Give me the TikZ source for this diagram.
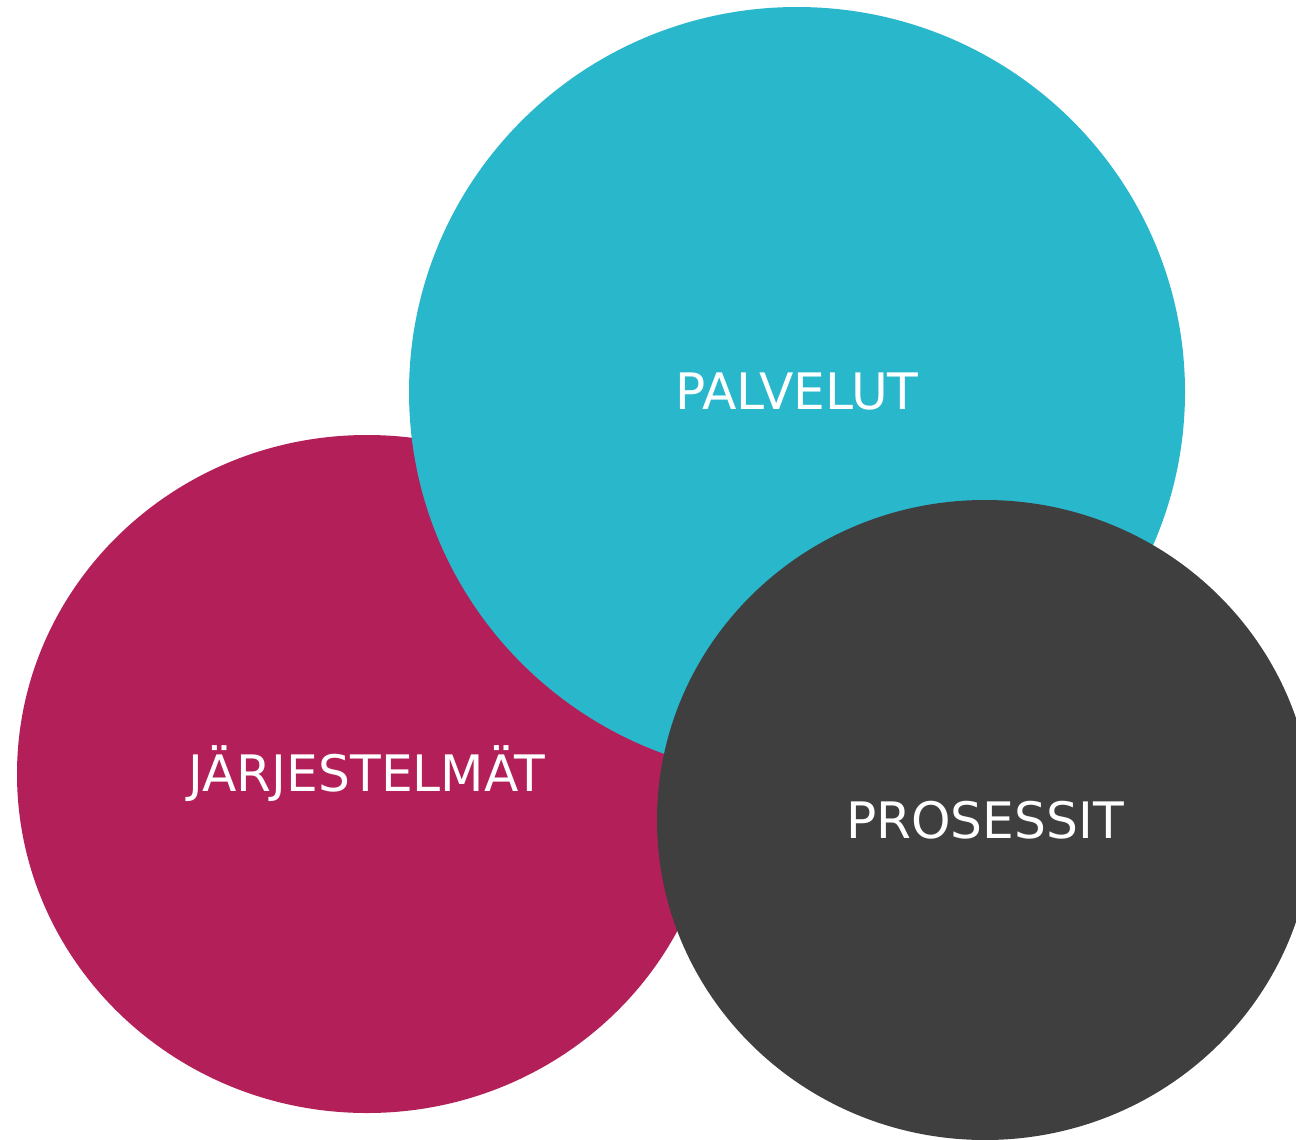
\documentclass[tikz,border=0pt]{standalone}
\usepackage{fontspec}
\setmainfont{DejaVu Sans}
\usepackage{xcolor}
\usepackage{tikz}
\usetikzlibrary{shapes.geometric}

\definecolor{jarjred}{HTML}{B31F58}
\definecolor{palvcyan}{HTML}{29B7CC}
\definecolor{prosgray}{HTML}{3F3F3F}

\begin{document}
\begin{tikzpicture}[
    every node/.style={
        ellipse,
        inner sep=0pt,
        align=center,
        text=white,
        font=\fontsize{14.3}{17}\selectfont
    },
    blob/.style={draw=none, fill=#1}
]

\useasboundingbox (0,0) rectangle (12.96,11.39);
\clip (0,0) rectangle (12.96,11.39);

\node (jarj) [blob=jarjred, minimum width=7cm, minimum height=6.78cm] at (3.67,3.65) {JÄRJESTELMÄT};
\node (palv) [blob=palvcyan, minimum width=7.76cm, minimum height=7.70cm] at (7.97,7.47) {PALVELUT};
\node (pros) [blob=prosgray, minimum width=6.56cm, minimum height=6.40cm] at (9.85,3.19) {PROSESSIT};

\end{tikzpicture}
\end{document}
